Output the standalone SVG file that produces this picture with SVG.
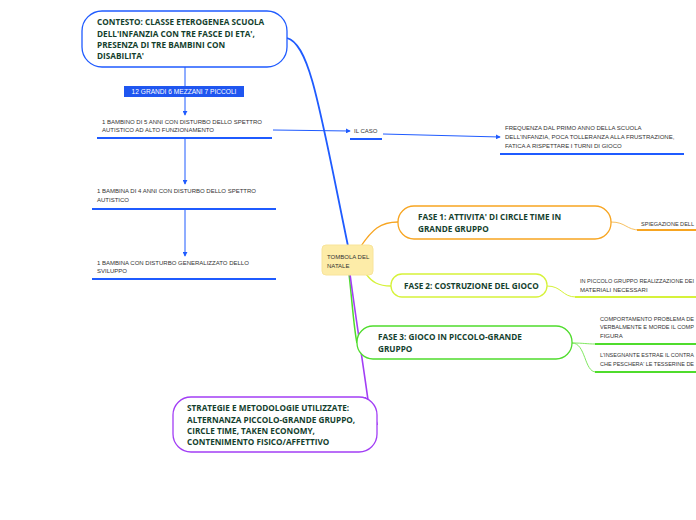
<svg xmlns="http://www.w3.org/2000/svg" width="696" height="520" viewBox="0 0 696 520">
<style>
.node{fill:#fff;stroke-width:1.3}
.bt{font-family:"Open Sans",sans-serif;font-weight:bold;font-size:8.2px;fill:#143f2e}
.st{font-family:"Liberation Sans",sans-serif;font-size:6px;fill:#333}
.blue{stroke:#1f5bff;fill:none}
.ul{stroke-width:2;fill:none}
</style>
<defs>
<marker id="ab" viewBox="0 0 6 6" refX="5" refY="3" markerWidth="5" markerHeight="5" orient="auto" markerUnits="userSpaceOnUse">
<path d="M0,0 L6,3 L0,6 z" fill="#1f5bff"/>
</marker>
</defs>
<g id="connectors">
<path class="blue" d="M287,38 C310,44 320,110 348,246" stroke-width="1.8"/>
<path class="blue" d="M185,67 V86" stroke-width="1"/>
<path class="blue" d="M185,97 V115" stroke-width="1" marker-end="url(#ab)"/>
<path class="blue" d="M273,130 L350,131" stroke-width="1" marker-end="url(#ab)"/>
<path class="blue" d="M383,134 L500,137" stroke-width="1" marker-end="url(#ab)"/>
<path class="blue" d="M185,139 V184" stroke-width="1" marker-end="url(#ab)"/>
<path class="blue" d="M185,210 V256" stroke-width="1" marker-end="url(#ab)"/>
<path d="M361,246 C372,230 380,222 398,222" stroke="#f7a521" stroke-width="1.3" fill="none"/>
<path d="M611,222 C626,222 626,230 640,230" stroke="#f7c060" stroke-width="1" fill="none"/>
<path d="M366,274 C372,282 378,286 391,286" stroke="#d6f23a" stroke-width="1.3" fill="none"/>
<path d="M547,286 C562,286 562,297 576,297" stroke="#d6f23a" stroke-width="1" fill="none"/>
<path d="M349,274 C352,300 354,330 357,343" stroke="#4fdc2c" stroke-width="1.5" fill="none"/>
<path d="M572,343 C584,343 586,344 596,344" stroke="#7fe860" stroke-width="1" fill="none"/>
<path d="M572,343 C586,343 584,372 596,372" stroke="#7fe860" stroke-width="1" fill="none"/>
<path d="M350,274 C356,320 364,370 368,400 C372,412 376,418 377,425" stroke="#a23ef5" stroke-width="1.6" fill="none"/>
<path d="M365,397 C371,403 376,412 377,425" stroke="#a23ef5" stroke-width="1" fill="none"/>
<path class="ul" d="M97,138 H272" stroke="#1f5bff"/>
<path class="ul" d="M350,139 H382" stroke="#1f5bff"/>
<path class="ul" d="M500,154 H684" stroke="#1f5bff"/>
<path class="ul" d="M92,209 H276" stroke="#1f5bff"/>
<path class="ul" d="M92,279 H276" stroke="#1f5bff"/>
<path class="ul" d="M637,230 H696" stroke="#f7a521"/>
<path class="ul" d="M575,297 H696" stroke="#d6f23a"/>
<path class="ul" d="M595,344 H696" stroke="#4fdc2c"/>
<path class="ul" d="M595,372 H696" stroke="#4fdc2c"/>
</g>
<g id="central">
<rect x="322" y="245" width="51" height="30" rx="4" fill="#fdeca8" stroke="#f8e49a"/>
<text class="st" x="327" y="259">TOMBOLA DEL</text>
<text class="st" x="327" y="268">NATALE</text>
</g>
<g id="contesto">
<rect class="node" x="82" y="11" width="205" height="56" rx="20" stroke="#1f5bff"/>
<text class="bt" x="97" y="25">CONTESTO: CLASSE ETEROGENEA SCUOLA</text>
<text class="bt" x="97" y="37">DELL'INFANZIA CON TRE FASCE DI ETA',</text>
<text class="bt" x="97" y="48">PRESENZA DI TRE BAMBINI CON</text>
<text class="bt" x="97" y="59">DISABILITA'</text>
</g>
<g id="gruppi">
<rect x="124" y="86" width="120" height="11" fill="#1f56f0"/>
<text x="184" y="94" text-anchor="middle" font-family="Liberation Sans,sans-serif" font-size="6.6" fill="#fff">12 GRANDI 6 MEZZANI 7 PICCOLI</text>
</g>
<g id="bambino1">
<text class="st" x="102" y="124">1 BAMBINO DI 5 ANNI CON DISTURBO DELLO SPETTRO</text>
<text class="st" x="102" y="132">AUTISTICO AD ALTO FUNZIONAMENTO</text>
</g>
<g id="ilcaso">
<text class="st" x="354" y="133">IL CASO</text>
</g>
<g id="frequenza">
<text class="st" x="505" y="130">FREQUENZA DAL PRIMO ANNO DELLA SCUOLA</text>
<text class="st" x="505" y="139">DELL'INFANZIA, POCA TOLLERANZA ALLA FRUSTRAZIONE,</text>
<text class="st" x="505" y="148">FATICA A RISPETTARE I TURNI DI GIOCO</text>
</g>
<g id="bambina1">
<text class="st" x="97" y="193">1 BAMBINA DI 4 ANNI CON DISTURBO DELLO SPETTRO</text>
<text class="st" x="97" y="202">AUTISTICO</text>
</g>
<g id="bambina2">
<text class="st" x="97" y="265">1 BAMBINA CON DISTURBO GENERALIZZATO DELLO</text>
<text class="st" x="97" y="273">SVILUPPO</text>
</g>
<g id="fase1">
<rect class="node" x="398" y="206" width="213" height="33" rx="16" stroke="#f7a521"/>
<text class="bt" x="418" y="220">FASE 1: ATTIVITA' DI CIRCLE TIME IN</text>
<text class="bt" x="418" y="232">GRANDE GRUPPO</text>
</g>
<g id="spiegazione">
<text class="st" x="641" y="226" textLength="53" lengthAdjust="spacingAndGlyphs">SPIEGAZIONE DELL</text>
</g>
<g id="fase2">
<rect class="node" x="391" y="274" width="156" height="23" rx="11" stroke="#d6f23a"/>
<text class="bt" x="404" y="289">FASE 2: COSTRUZIONE DEL GIOCO</text>
</g>
<g id="piccologruppo">
<text class="st" x="580" y="283" textLength="114" lengthAdjust="spacingAndGlyphs">IN PICCOLO GRUPPO REALIZZAZIONE DEI</text>
<text class="st" x="580" y="292">MATERIALI NECESSARI</text>
</g>
<g id="fase3">
<rect class="node" x="357" y="326" width="215" height="33" rx="16" stroke="#4fdc2c"/>
<text class="bt" x="378" y="340">FASE 3: GIOCO IN PICCOLO-GRANDE</text>
<text class="bt" x="378" y="352">GRUPPO</text>
</g>
<g id="comportamento">
<text class="st" x="600" y="321" textLength="94" lengthAdjust="spacingAndGlyphs">COMPORTAMENTO PROBLEMA DE</text>
<text class="st" x="600" y="329" textLength="94" lengthAdjust="spacingAndGlyphs">VERBALMENTE E MORDE IL COMP</text>
<text class="st" x="600" y="338">FIGURA</text>
</g>
<g id="insegnante">
<text class="st" x="600" y="357" textLength="94" lengthAdjust="spacingAndGlyphs">L'INSEGNANTE ESTRAE IL CONTRA</text>
<text class="st" x="600" y="366" textLength="94" lengthAdjust="spacingAndGlyphs">CHE PESCHERA' LE TESSERINE DE</text>
</g>
<g id="strategie">
<rect class="node" x="173" y="397" width="204" height="55" rx="18" stroke="#a23ef5"/>
<text class="bt" x="187" y="411">STRATEGIE E METODOLOGIE UTILIZZATE:</text>
<text class="bt" x="187" y="423">ALTERNANZA PICCOLO-GRANDE GRUPPO,</text>
<text class="bt" x="187" y="434">CIRCLE TIME, TAKEN ECONOMY,</text>
<text class="bt" x="187" y="445">CONTENIMENTO FISICO/AFFETTIVO</text>
</g>
</svg>
